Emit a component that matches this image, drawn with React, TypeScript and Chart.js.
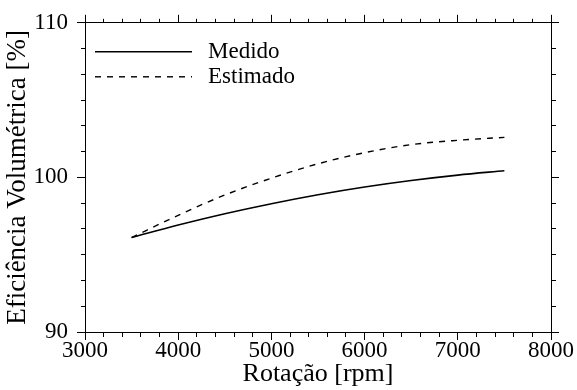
import React, { useEffect, useRef } from 'react';
import { Chart, registerables } from 'chart.js';

Chart.register(...registerables);

// ---- data ----
const rpm = [3500, 4000, 4500, 5000, 5500, 6000, 6500, 7000, 7500];
const medido = [96.11, 96.92, 97.65, 98.3, 98.88, 99.38, 99.8, 100.15, 100.43];
const estimado = [96.11, 97.55, 98.86, 99.95, 100.88, 101.6, 102.12, 102.4, 102.59];

const seriesLabels = ['Medido', 'Estimado'];
const xMajorTicks = [3000, 4000, 5000, 6000, 7000, 8000];
const yMajorTicks = [90, 100, 110];
const xMinorPerMajor = 5;
const yMinorPerMajor = 6;
const xTitle = 'Rotação [rpm]';
const yTitle = 'Eficiência Volumétrica [%]';

const FONT = '"Liberation Serif"';

function withMinor(major: number[], n: number): number[] {
  const out: number[] = [];
  for (let i = 0; i < major.length - 1; i++) {
    const a = major[i];
    const b = major[i + 1];
    for (let k = 0; k < n; k++) out.push(a + ((b - a) * k) / n);
  }
  out.push(major[major.length - 1]);
  return out;
}

const isMajor = (v: number, majors: number[]) => majors.some((m) => Math.abs(m - v) < 1e-6);

function makeAxis(opts: {
  position: 'left' | 'right' | 'top' | 'bottom';
  majors: number[];
  n: number;
  showLabels: boolean;
  size: number;
  title?: string;
  titleSize?: number;
  tickPadding?: number;
  titlePadding?: any;
}) {
  const { position, majors, n, showLabels, size, title, titleSize, tickPadding, titlePadding } = opts;
  const horizontal = position === 'top' || position === 'bottom';
  const outerFirst = position === 'top' || position === 'left';
  return {
    type: 'linear',
    position,
    min: majors[0],
    max: majors[majors.length - 1],
    afterBuildTicks: (s: any) => {
      s.ticks = withMinor(majors, n).map((v) => ({ value: v }));
    },
    afterFit: (s: any) => {
      if (horizontal) s.height = size;
      else s.width = size;
    },
    grid: {
      drawOnChartArea: false,
      drawTicks: true,
      tickLength: 8,
      tickColor: '#000',
      tickWidth: 1,
      tickBorderDash: (ctx: any) => {
        if (!ctx.tick) return [];
        if (isMajor(ctx.tick.value, majors)) return [];
        return outerFirst ? [0, 4, 4, 100] : [4, 100];
      },
    },
    border: { display: true, color: '#000', width: 1 },
    ticks: {
      display: showLabels,
      autoSkip: false,
      maxRotation: 0,
      minRotation: 0,
      padding: tickPadding ?? 3,
      color: '#000',
      font: { family: FONT, size: 23 },
      callback: (v: any) => (isMajor(Number(v), majors) ? String(Math.round(Number(v))) : ''),
    },
    title: title
      ? {
          display: true,
          text: title,
          color: '#000',
          font: { family: FONT, size: titleSize ?? 26 },
          padding: titlePadding ?? 0,
        }
      : { display: false },
  };
}

const legendPlugin = {
  id: 'innerLegend',
  afterDatasetsDraw(chart: any) {
    const { ctx, chartArea } = chart;
    chart.data.datasets.forEach((ds: any, i: number) => {
      const y = chartArea.top + 29 + i * 25;
      const x0 = chartArea.left + 10;
      ctx.save();
      ctx.strokeStyle = ds.borderColor;
      ctx.lineWidth = ds.borderWidth;
      ctx.setLineDash(ds.borderDash || []);
      ctx.beginPath();
      ctx.moveTo(x0, y);
      ctx.lineTo(x0 + 97, y);
      ctx.stroke();
      ctx.setLineDash([]);
      ctx.fillStyle = '#000';
      ctx.font = `23px ${FONT}`;
      ctx.textBaseline = 'middle';
      ctx.textAlign = 'left';
      ctx.fillText(ds.label, x0 + 113, y);
      ctx.restore();
    });
  },
};

function buildChart(canvas: HTMLCanvasElement) {
  return new Chart(canvas, {
    type: 'line',
    data: {
      datasets: [
        {
          label: seriesLabels[0],
          data: rpm.map((x, i) => ({ x, y: medido[i] })),
          borderColor: '#000',
          borderWidth: 1.6,
          pointRadius: 0,
          fill: false,
          cubicInterpolationMode: 'monotone',
          xAxisID: 'x',
          yAxisID: 'y',
        },
        {
          label: seriesLabels[1],
          data: rpm.map((x, i) => ({ x, y: estimado[i] })),
          borderColor: '#000',
          borderWidth: 1.4,
          borderDash: [6, 6],
          pointRadius: 0,
          fill: false,
          cubicInterpolationMode: 'monotone',
          xAxisID: 'x',
          yAxisID: 'y',
        },
      ],
    } as any,
    options: {
      animation: false,
      responsive: false,
      maintainAspectRatio: false,
      devicePixelRatio: 1,
      layout: { padding: { left: 0, top: 10, right: 18, bottom: 0 } },
      plugins: { legend: { display: false }, tooltip: { enabled: false } },
      scales: {
        x: makeAxis({
          position: 'bottom',
          majors: xMajorTicks,
          n: xMinorPerMajor,
          showLabels: true,
          size: 58,
          title: xTitle,
          titleSize: 26,
          tickPadding: -3,
          titlePadding: { top: 0, bottom: 0 },
        }),
        x2: makeAxis({ position: 'top', majors: xMajorTicks, n: xMinorPerMajor, showLabels: false, size: 8 }),
        y: makeAxis({
          position: 'left',
          majors: yMajorTicks,
          n: yMinorPerMajor,
          showLabels: true,
          size: 85,
          title: yTitle,
          titleSize: 27,
          tickPadding: 9,
          titlePadding: { top: 2, bottom: 0 },
        }),
        y2: makeAxis({ position: 'right', majors: yMajorTicks, n: yMinorPerMajor, showLabels: false, size: 8 }),
      } as any,
    },
    plugins: [legendPlugin],
  } as any);
}

export default function App() {
  const ref = useRef<HTMLCanvasElement | null>(null);

  useEffect(() => {
    if (!ref.current) return;
    let chart: any = buildChart(ref.current);
    let alive = true;
    const rebuild = () => {
      if (!alive || !ref.current) return;
      if (chart) chart.destroy();
      chart = buildChart(ref.current);
    };
    const t1 = setTimeout(rebuild, 60);
    return () => {
      alive = false;
      clearTimeout(t1);
      if (chart) chart.destroy();
    };
  }, []);

  return (
    <div style={{ position: 'fixed', left: 0, top: 0, width: 577, height: 390, background: '#fff' }}>
      <canvas
        ref={ref}
        width={577}
        height={390}
        style={{ position: 'absolute', left: 0, top: 0, width: 577, height: 390, display: 'block' }}
      />
    </div>
  );
}
